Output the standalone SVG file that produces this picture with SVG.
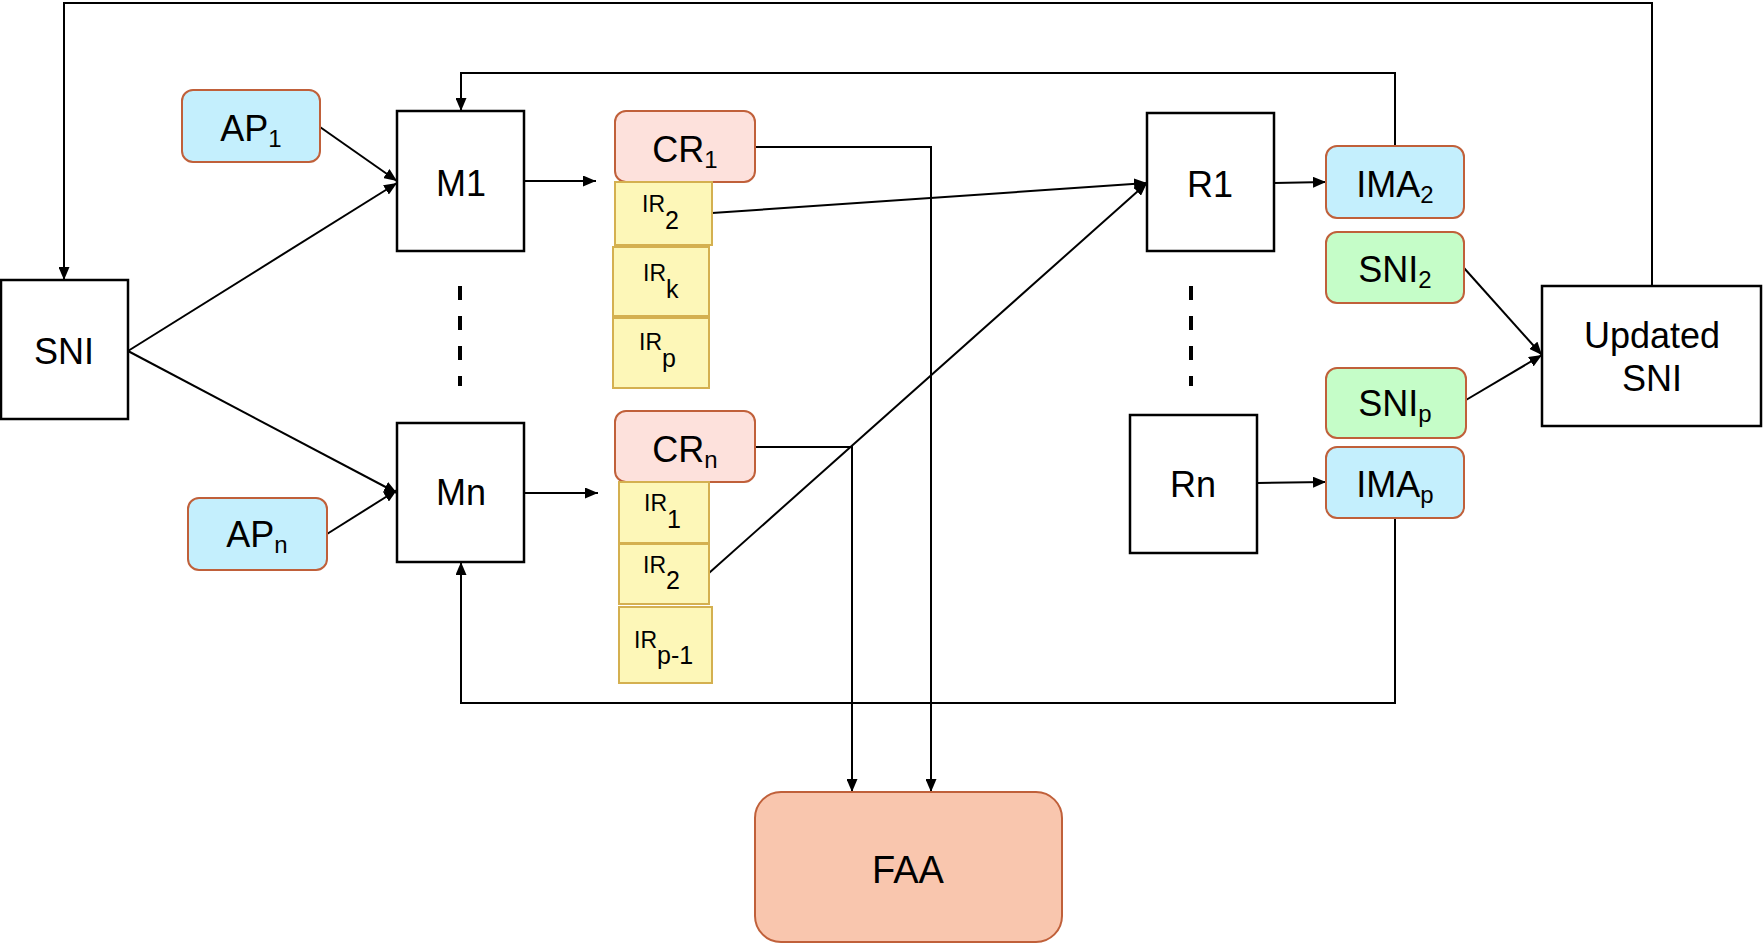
<svg xmlns="http://www.w3.org/2000/svg" width="1763" height="944" viewBox="0 0 1763 944">
<style>
text{font-family:"Liberation Sans",Arial,sans-serif;fill:#000}
.box{fill:#fff;stroke:#000;stroke-width:2.5}
.ap{fill:#c4effd;stroke:#c0603a;stroke-width:2}
.sn{fill:#c5fdc8;stroke:#c0603a;stroke-width:2}
.cr{fill:#fde1dc;stroke:#c0603a;stroke-width:2}
.ir{fill:#fdf7b8;stroke:#d4b050;stroke-width:2}
.faa{fill:#f9c6ae;stroke:#c0603a;stroke-width:2}
.t{font-size:36px;text-anchor:middle}
.s{font-size:24px}
.irt{font-size:23px}
.irs{font-size:25px}
.c{fill:none;stroke:#000;stroke-width:2}
.d{fill:none;stroke:#000;stroke-width:4;stroke-dasharray:14 16}
</style>
<defs>
<marker id="a" markerUnits="userSpaceOnUse" markerWidth="13" markerHeight="11" refX="13" refY="5.5" orient="auto">
<path d="M0,0 L13,5.5 L0,11 z" fill="#000"/>
</marker>
</defs>
<g id="connectors">
<path class="c" d="M1652,286 V3 H64 V280" marker-end="url(#a)"/>
<path class="c" d="M1395,146 V73 H461 V111" marker-end="url(#a)"/>
<path class="c" d="M1395,518 V703 H461 V562" marker-end="url(#a)"/>
<path class="c" d="M128,351 L397,183" marker-end="url(#a)"/>
<path class="c" d="M128,351 L397,493" marker-end="url(#a)"/>
<path class="c" d="M320,127 L397,181" marker-end="url(#a)"/>
<path class="c" d="M327,534 L397,490" marker-end="url(#a)"/>
<path class="c" d="M524,181 L596,181" marker-end="url(#a)"/>
<path class="c" d="M524,493 L598,493" marker-end="url(#a)"/>
<path class="c" d="M755,147 H931 V792" marker-end="url(#a)"/>
<path class="c" d="M755,447 H852 V792" marker-end="url(#a)"/>
<path class="c" d="M712,213 L1147,183" marker-end="url(#a)"/>
<path class="c" d="M709,573 L1147,183" marker-end="url(#a)"/>
<path class="c" d="M1274,183 L1326,182" marker-end="url(#a)"/>
<path class="c" d="M1257,483 L1326,482" marker-end="url(#a)"/>
<path class="c" d="M1464,268 L1542,355" marker-end="url(#a)"/>
<path class="c" d="M1466,400 L1542,355" marker-end="url(#a)"/>
<path class="d" d="M460,286 V386"/>
<path class="d" d="M1191,286 V386"/>
</g>
<g id="SNI"><rect class="box" x="1" y="280" width="127" height="139"/><text class="t" x="64" y="364">SNI</text></g>
<g id="AP1"><rect class="ap" x="182" y="90" width="138" height="72" rx="11"/><text class="t" x="251" y="141">AP<tspan class="s" dy="6">1</tspan></text></g>
<g id="APn"><rect class="ap" x="188" y="498" width="139" height="72" rx="11"/><text class="t" x="257" y="547">AP<tspan class="s" dy="6">n</tspan></text></g>
<g id="M1"><rect class="box" x="397" y="111" width="127" height="140"/><text class="t" x="461" y="196">M1</text></g>
<g id="Mn"><rect class="box" x="397" y="423" width="127" height="139"/><text class="t" x="461" y="505">Mn</text></g>
<g id="CR1"><rect class="cr" x="615" y="111" width="140" height="71" rx="11"/><text class="t" x="685" y="162">CR<tspan class="s" dy="6">1</tspan></text></g>
<g id="IR2a"><rect class="ir" x="615" y="182" width="97" height="63"/><text x="642" y="212" class="irt">IR<tspan class="irs" dy="17">2</tspan></text></g>
<g id="IRk"><rect class="ir" x="613" y="247" width="96" height="69"/><text x="643" y="281" class="irt">IR<tspan class="irs" dy="17">k</tspan></text></g>
<g id="IRp"><rect class="ir" x="613" y="318" width="96" height="70"/><text x="639" y="350" class="irt">IR<tspan class="irs" dy="17">p</tspan></text></g>
<g id="CRn"><rect class="cr" x="615" y="411" width="140" height="71" rx="11"/><text class="t" x="685" y="462">CR<tspan class="s" dy="6">n</tspan></text></g>
<g id="IR1"><rect class="ir" x="619" y="482" width="90" height="61"/><text x="644" y="511" class="irt">IR<tspan class="irs" dy="17">1</tspan></text></g>
<g id="IR2b"><rect class="ir" x="619" y="544" width="90" height="60"/><text x="643" y="573" class="irt">IR<tspan class="irs" dy="16">2</tspan></text></g>
<g id="IRp1"><rect class="ir" x="619" y="607" width="93" height="76"/><text x="634" y="648" class="irt">IR<tspan class="irs" dy="16">p-1</tspan></text></g>
<g id="FAA"><rect class="faa" x="755" y="792" width="307" height="150" rx="26"/><text class="t" x="908" y="883" style="font-size:38px">FAA</text></g>
<g id="R1"><rect class="box" x="1147" y="113" width="127" height="138"/><text class="t" x="1210" y="197">R1</text></g>
<g id="Rn"><rect class="box" x="1130" y="415" width="127" height="138"/><text class="t" x="1193" y="497">Rn</text></g>
<g id="IMA2"><rect class="ap" x="1326" y="146" width="138" height="72" rx="11"/><text class="t" x="1395" y="197">IMA<tspan class="s" dy="6">2</tspan></text></g>
<g id="SNI2"><rect class="sn" x="1326" y="232" width="138" height="71" rx="11"/><text class="t" x="1395" y="282">SNI<tspan class="s" dy="6">2</tspan></text></g>
<g id="SNIp"><rect class="sn" x="1326" y="368" width="140" height="70" rx="11"/><text class="t" x="1395" y="416">SNI<tspan class="s" dy="6">p</tspan></text></g>
<g id="IMAp"><rect class="ap" x="1326" y="447" width="138" height="71" rx="11"/><text class="t" x="1395" y="497">IMA<tspan class="s" dy="6">p</tspan></text></g>
<g id="UpdatedSNI"><rect class="box" x="1542" y="286" width="219" height="140"/><text class="t" x="1652" y="348">Updated</text><text class="t" x="1652" y="391">SNI</text></g>
</svg>
